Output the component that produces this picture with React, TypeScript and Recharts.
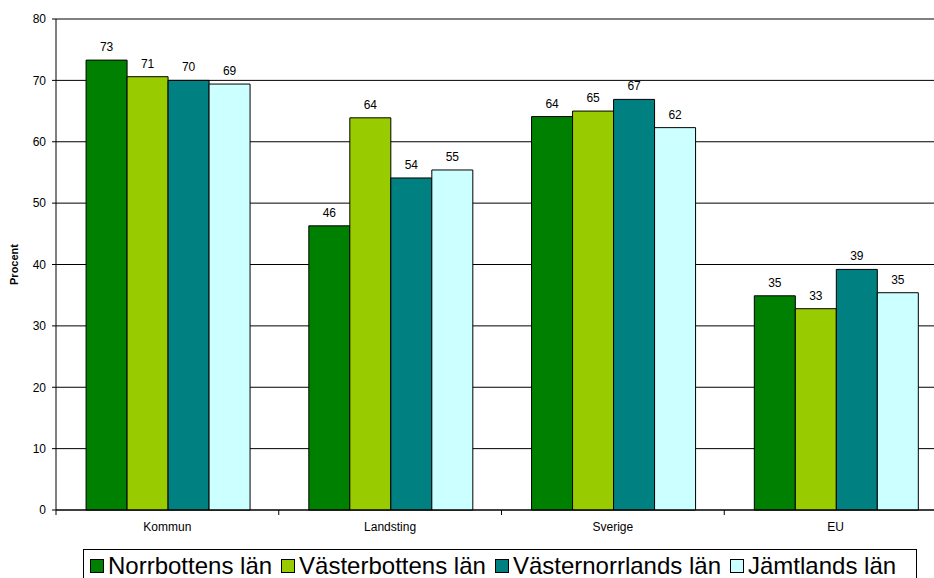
import {
  BarChart,
  Bar,
  XAxis,
  YAxis,
  CartesianGrid,
  LabelList,
} from "recharts";

const categories = ["Kommun", "Landsting", "Sverige", "EU"];
const seriesNames = [
  "Norrbottens län",
  "Västerbottens län",
  "Västernorrlands län",
  "Jämtlands län",
];
const norrbotten = [73.3, 46.3, 64.1, 34.9];
const vasterbotten = [70.6, 63.9, 65.0, 32.8];
const vasternorrland = [70.0, 54.1, 66.9, 39.2];
const jamtland = [69.4, 55.4, 62.3, 35.4];
const yTicks = [0, 10, 20, 30, 40, 50, 60, 70, 80];

const COLORS = ["#008000", "#99CC00", "#008080", "#CCFFFF"];
const FONT = "'Liberation Sans', Arial, sans-serif";

const CHART_W = 950;
const Y_AXIS_W = 56;
const MARGIN = { top: 19, right: 3, bottom: 38, left: 0 };
const BAND = (CHART_W - Y_AXIS_W - MARGIN.left - MARGIN.right) / categories.length;

const data = categories.map((name, i) => ({
  name,
  s0: norrbotten[i],
  s1: vasterbotten[i],
  s2: vasternorrland[i],
  s3: jamtland[i],
}));

const CategoryTick = (props: any) => {
  const { x, y, payload, index } = props;
  const half = BAND / 2;
  return (
    <g>
      <line x1={x - half} y1={y} x2={x - half} y2={y + 5} stroke='#000' />
      {index === categories.length - 1 && (
        <line x1={x + half} y1={y} x2={x + half} y2={y + 5} stroke='#000' />
      )}
      <text
        x={x}
        y={y + 21}
        textAnchor='middle'
        fontSize={12}
        fontFamily={FONT}
        fill='#000'
      >
        {payload.value}
      </text>
    </g>
  );
};

export default function App() {
  return (
    <div
      style={{
        position: "fixed",
        left: 0,
        top: 0,
        width: 934,
        height: 578,
        overflow: "hidden",
        background: "#fff",
        fontFamily: FONT,
      }}
    >
      <BarChart
        width={CHART_W}
        height={578}
        data={data}
        margin={MARGIN}
        barCategoryGap='13.5%'
        barGap={0}
      >
        <CartesianGrid vertical={false} stroke='#000' />
        <XAxis
          dataKey='name'
          stroke='#000'
          tickLine={false}
          tickSize={0}
          tickMargin={0}
          height={30}
          tick={<CategoryTick />}
          interval={0}
        />
        <YAxis
          width={Y_AXIS_W}
          domain={[0, 80]}
          ticks={yTicks}
          stroke='#000'
          tickSize={4}
          tickMargin={6}
          tick={{ fill: "#000", fontSize: 12, fontFamily: FONT }}
          label={({ viewBox }: any) => (
            <text
              x={18}
              y={viewBox.y + viewBox.height / 2}
              transform={`rotate(-90, 18, ${viewBox.y + viewBox.height / 2})`}
              textAnchor='middle'
              fontSize={11}
              fontWeight='bold'
              fontFamily={FONT}
              fill='#000'
            >
              Procent
            </text>
          )}
        />
        {seriesNames.map((name, i) => (
          <Bar
            key={name}
            dataKey={`s${i}`}
            name={name}
            fill={COLORS[i]}
            stroke='#000'
            strokeWidth={1}
            isAnimationActive={false}
          >
            <LabelList
              dataKey={`s${i}`}
              position='top'
              offset={9}
              formatter={(v: any) => Math.round(Number(v))}
              style={{ fill: "#000", fontSize: 12, fontFamily: FONT }}
            />
          </Bar>
        ))}
      </BarChart>
      <div
        style={{
          position: "absolute",
          left: 83,
          top: 549,
          width: 834,
          height: 40,
          border: "1px solid #000",
          boxSizing: "border-box",
          display: "flex",
          alignItems: "flex-start",
          paddingLeft: 6,
          paddingTop: 3,
          fontSize: 24,
          lineHeight: "26px",
          color: "#000",
          whiteSpace: "nowrap",
        }}
      >
        {seriesNames.map((name, i) => (
          <div
            key={name}
            style={{ display: "flex", alignItems: "center", marginRight: 9 }}
          >
            <span
              style={{
                display: "inline-block",
                width: 14,
                height: 14,
                background: COLORS[i],
                border: "1px solid #000",
                boxSizing: "border-box",
                marginRight: 4,
              }}
            />
            {name}
          </div>
        ))}
      </div>
    </div>
  );
}
